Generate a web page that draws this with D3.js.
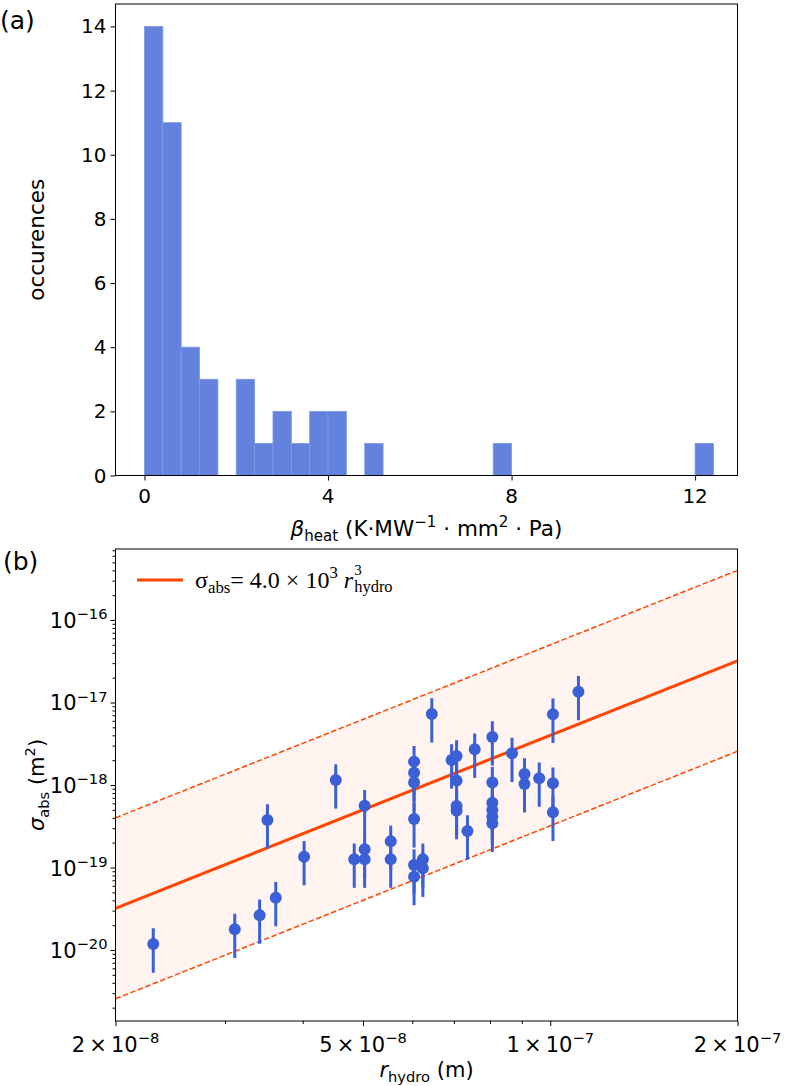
<!DOCTYPE html>
<html><head><meta charset="utf-8">
<script src="https://cdn.jsdelivr.net/npm/d3@7"></script>
<style>body{margin:0;background:#fff} svg{display:block}</style>
</head><body><svg id="c" width="789" height="1086"></svg>
<script>
// ---------- panel (a) data ----------
const binWidth = 0.4;
const binStart = 0;
const histCounts = [14,11,4,3,0,3,1,2,1,2,2,0,1,0,0,0,0,0,0,1,0,0,0,0,0,0,0,0,0,0,1];
const histXTicks = [0,4,8,12];
const histYTicks = [0,2,4,6,8,10,12,14];

// ---------- panel (b) data ----------
const rHydro = [2.30e-8,3.11e-8,3.41e-8,3.62e-8,3.51e-8,4.02e-8,4.52e-8,4.84e-8,5.03e-8,5.03e-8,
  5.03e-8,5.54e-8,5.54e-8,6.04e-8,6.04e-8,6.04e-8,6.04e-8,6.04e-8,6.04e-8,6.24e-8,
  6.24e-8,6.45e-8,6.94e-8,7.07e-8,7.07e-8,7.07e-8,7.07e-8,7.36e-8,7.56e-8,8.07e-8,
  8.07e-8,8.07e-8,8.07e-8,8.07e-8,8.07e-8,8.68e-8,9.09e-8,9.09e-8,9.60e-8,1.01e-7,
  1.01e-7,1.01e-7,1.11e-7];
const sigmaAbs = [1.18e-20,1.78e-20,2.64e-20,4.31e-20,3.77e-19,1.35e-19,1.15e-18,1.26e-19,5.61e-19,1.66e-19,
  1.26e-19,2.08e-19,1.26e-19,1.92e-18,1.41e-18,1.07e-18,3.87e-19,1.07e-19,7.74e-20,1.26e-19,
  9.77e-20,7.26e-18,2.01e-18,2.25e-18,1.13e-18,5.57e-19,4.88e-19,2.77e-19,2.71e-18,3.82e-18,
  1.07e-18,6.10e-19,4.98e-19,4.13e-19,3.43e-19,2.42e-18,1.36e-18,1.03e-18,1.21e-18,7.19e-18,
  1.05e-18,4.67e-19,1.35e-17];
const relErr = [0.55,0.55,0.55,0.55,0.55,0.55,0.55,0.55,0.55,0.55,
  0.55,0.55,0.55,0.55,0.55,0.55,0.55,0.55,0.55,0.55,
  0.55,0.55,0.55,0.55,0.55,0.55,0.55,0.55,0.55,0.55,
  0.55,0.55,0.55,0.55,0.55,0.55,0.55,0.55,0.55,0.55,
  0.55,0.55,0.55];
const fitPrefactor = 4.0e3;
const bandUpperPrefactor = 5.0e4;
const bandLowerPrefactor = 3.2e2;
const rTicks = [2e-8,5e-8,1e-7,2e-7];
const rTickLabels = [["2","−8"],["5","−8"],["1","−7"],["2","−7"]];
const rMinorTicks = [3e-8,4e-8,6e-8,7e-8,8e-8,9e-8];
const sigmaTicks = [1e-20,1e-19,1e-18,1e-17,1e-16];
const sigmaTickLabels = ["−20","−19","−18","−17","−16"];

const svg = d3.select("#c");
const SANS = "DejaVu Sans";
const BLUE = "#3a5fd6";
const RED = "#ff4500";

function rich(textSel, parts, size){
  let cur = 0;
  parts.forEach(p=>{
    const mode = p[1]||"n";
    let target = 0, fs = size;
    if(mode==="sub"){target = size*0.22; fs = size*0.7;}
    if(mode==="sup"){target = -size*0.42; fs = size*0.7;}
    const ts = textSel.append("tspan").text(p[0]).attr("font-size", fs)
      .attr("dy", target-cur);
    if(p[2]) ts.attr("font-style","italic");
    cur = target;
  });
}

// ================= Panel (a) =================
const A = {l:115.5, r:737.5, t:4, b:475.5};
const xH = d3.scaleLinear().domain([-0.632, 12.924]).range([A.l, A.r]);
const yH = d3.scaleLinear().domain([0, 14.7]).range([A.b, A.t]);
const gA = svg.append("g");

gA.selectAll("rect.bar").data(histCounts.map((c,i)=>({x0:binStart+i*binWidth, c})).filter(d=>d.c>0))
  .enter().append("rect")
  .attr("x", d=>xH(d.x0)).attr("width", d=>xH(d.x0+binWidth)-xH(d.x0))
  .attr("y", d=>yH(d.c)).attr("height", d=>yH(0)-yH(d.c))
  .attr("fill","#6282dd").attr("stroke","#7f98e5").attr("stroke-width",0.8);

const axA_x = gA.append("g").attr("transform",`translate(0,${A.b})`)
  .call(d3.axisBottom(xH).tickValues(histXTicks).tickSize(5).tickSizeOuter(0).tickFormat(""));
const axA_y = gA.append("g").attr("transform",`translate(${A.l},0)`)
  .call(d3.axisLeft(yH).tickValues(histYTicks).tickSize(5).tickSizeOuter(0).tickFormat(""));
[axA_x, axA_y].forEach(a=>{a.select(".domain").remove(); a.selectAll("line").attr("stroke","#000").attr("stroke-width",1);});
gA.append("rect").attr("x",A.l).attr("y",A.t).attr("width",A.r-A.l).attr("height",A.b-A.t)
  .attr("fill","none").attr("stroke","#000").attr("stroke-width",1);

gA.selectAll("text.xt").data(histXTicks).enter().append("text")
  .attr("x", d=>xH(d)).attr("y", A.b+27).attr("text-anchor","middle")
  .attr("font-family",SANS).attr("font-size",20).text(d=>d);
gA.selectAll("text.yt").data(histYTicks).enter().append("text")
  .attr("x", A.l-9).attr("y", d=>yH(d)+7).attr("text-anchor","end")
  .attr("font-family",SANS).attr("font-size",20).text(d=>d);

const xlabA = gA.append("text").attr("x",(A.l+A.r)/2).attr("y",536).attr("text-anchor","middle")
  .attr("font-family",SANS).attr("font-size",21.5);
rich(xlabA, [["β","n",true],["heat","sub"],[" (K·MW","n"],["−1","sup"],[" · mm","n"],["2","sup"],[" · Pa)","n"]], 21.5);

gA.append("text").attr("transform",`translate(44,${(A.t+A.b)/2}) rotate(-90)`)
  .attr("text-anchor","middle").attr("font-family",SANS).attr("font-size",21.5).text("occurences");
svg.append("text").attr("x",0).attr("y",29).attr("font-family",SANS).attr("font-size",25).text("(a)");

// ================= Panel (b) =================
const B = {l:115.5, r:737.5, t:549, b:1021};
const xS = d3.scaleLog().domain([2e-8, 2e-7]).range([B.l, B.r]);
const yS = d3.scaleLog().domain([Math.pow(10,-20.8606), Math.pow(10,-15.1394)]).range([B.b, B.t]);
const gB = svg.append("g");
gB.append("clipPath").attr("id","clipB").append("rect")
  .attr("x",B.l).attr("y",B.t).attr("width",B.r-B.l).attr("height",B.b-B.t);
const plotB = gB.append("g").attr("clip-path","url(#clipB)");

const rEnds = xS.domain();
const band = rEnds.map(r=>({r, lo:bandLowerPrefactor*r*r*r, hi:bandUpperPrefactor*r*r*r, mid:fitPrefactor*r*r*r}));
plotB.append("path").datum(band)
  .attr("d", d3.area().x(d=>xS(d.r)).y0(d=>yS(d.lo)).y1(d=>yS(d.hi)))
  .attr("fill",RED).attr("fill-opacity",0.06).attr("stroke","none");
["lo","hi"].forEach(k=>{
  plotB.append("path").datum(band)
    .attr("d", d3.line().x(d=>xS(d.r)).y(d=>yS(d[k])))
    .attr("fill","none").attr("stroke",RED).attr("stroke-width",1.5).attr("stroke-dasharray","5.5,2.5");
});
plotB.append("path").datum(band)
  .attr("d", d3.line().x(d=>xS(d.r)).y(d=>yS(d.mid)))
  .attr("fill","none").attr("stroke",RED).attr("stroke-width",3);

const pts = rHydro.map((r,i)=>({r, s:sigmaAbs[i], e:relErr[i]*sigmaAbs[i]}));
plotB.selectAll("line.err").data(pts).enter().append("line")
  .attr("x1",d=>xS(d.r)).attr("x2",d=>xS(d.r))
  .attr("y1",d=>yS(d.s+d.e)).attr("y2",d=>yS(d.s-d.e))
  .attr("stroke",BLUE).attr("stroke-width",3);
plotB.selectAll("circle.pt").data(pts).enter().append("circle")
  .attr("cx",d=>xS(d.r)).attr("cy",d=>yS(d.s)).attr("r",6)
  .attr("fill",BLUE);

// axes
const sigMinor = [];
for(let e=-21;e<=-16;e++) for(let k=2;k<=9;k++){const v=k*Math.pow(10,e); if(v>yS.domain()[0]&&v<yS.domain()[1]) sigMinor.push(v);}
const axes = [
  gB.append("g").attr("transform",`translate(0,${B.b})`).call(d3.axisBottom(xS).tickValues(rTicks).tickSize(5).tickSizeOuter(0).tickFormat("")),
  gB.append("g").attr("transform",`translate(0,${B.b})`).call(d3.axisBottom(xS).tickValues(rMinorTicks).tickSize(3).tickSizeOuter(0).tickFormat("")),
  gB.append("g").attr("transform",`translate(${B.l},0)`).call(d3.axisLeft(yS).tickValues(sigmaTicks).tickSize(5).tickSizeOuter(0).tickFormat("")),
  gB.append("g").attr("transform",`translate(${B.l},0)`).call(d3.axisLeft(yS).tickValues(sigMinor).tickSize(3).tickSizeOuter(0).tickFormat(""))
];
axes.forEach(a=>{a.select(".domain").remove(); a.selectAll("line").attr("stroke","#000").attr("stroke-width",1);});
gB.append("rect").attr("x",B.l).attr("y",B.t).attr("width",B.r-B.l).attr("height",B.b-B.t)
  .attr("fill","none").attr("stroke","#000").attr("stroke-width",1);

rTicks.forEach((v,i)=>{
  const t = gB.append("text").attr("x",xS(v)).attr("y",B.b+31).attr("text-anchor","middle")
    .attr("font-family",SANS).attr("font-size",21);
  rich(t, [[rTickLabels[i][0]+"\u2009×\u200910","n"],[rTickLabels[i][1],"sup"]], 21);
});
sigmaTicks.forEach((v,i)=>{
  const t = gB.append("text").attr("x",B.l-8).attr("y",yS(v)+8).attr("text-anchor","end")
    .attr("font-family",SANS).attr("font-size",21);
  rich(t, [["10","n"],[sigmaTickLabels[i],"sup"]], 21);
});

const xlabB = gB.append("text").attr("x",(B.l+B.r)/2).attr("y",1077).attr("text-anchor","middle")
  .attr("font-family",SANS).attr("font-size",21);
rich(xlabB, [["r","n",true],["hydro","sub"],[" (m)","n"]], 21);
const ylabB = gB.append("text").attr("transform",`translate(44,${(B.t+B.b)/2}) rotate(-90)`)
  .attr("text-anchor","middle").attr("font-family",SANS).attr("font-size",21);
rich(ylabB, [["σ","n",true],["abs","sub"],[" (m","n"],["2","sup"],[")","n"]], 21);

svg.append("text").attr("x",3).attr("y",570).attr("font-family",SANS).attr("font-size",25).text("(b)");

// legend
gB.append("line").attr("x1",137).attr("x2",183).attr("y1",580).attr("y2",580)
  .attr("stroke",RED).attr("stroke-width",3);
const SERIF = "Liberation Serif";
const leg = gB.append("text").attr("x",195).attr("y",588).attr("font-family",SERIF).attr("font-size",24);
rich(leg, [["σ","n"],["abs","sub"],["= 4.0 × 10","n"],["3","sup"],["\u00a0","n"],["r","n",true]], 24);
const legEnd = 195 + leg.node().getComputedTextLength() + 1;
gB.append("text").attr("x",legEnd).attr("y",575).attr("font-family",SERIF).attr("font-size",15).text("3");
gB.append("text").attr("x",legEnd).attr("y",592).attr("font-family",SERIF).attr("font-size",16.5).text("hydro");
</script></body></html>
